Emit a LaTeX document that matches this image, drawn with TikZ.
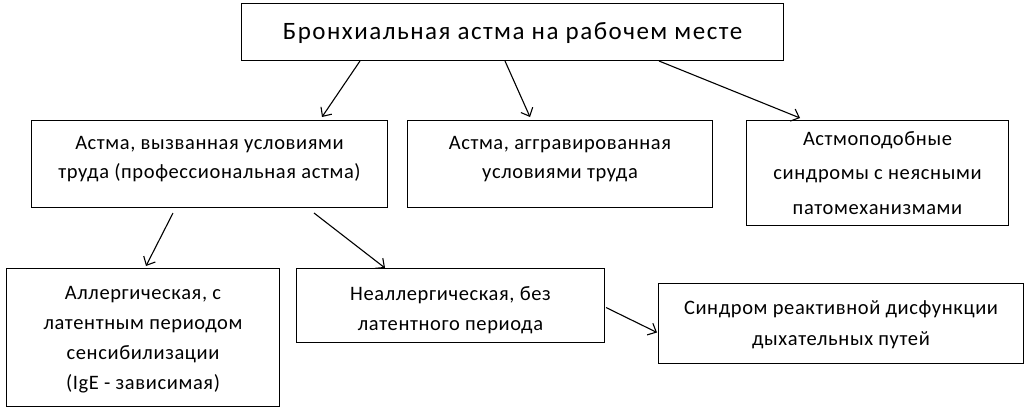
\documentclass[tikz,border=0pt]{standalone}
\usepackage{fontspec}
\setmainfont{Carlito}
\newfontfamily\bodyfont[LetterSpace=3]{Carlito}
\newfontfamily\titlefont[LetterSpace=6]{Carlito}
\usetikzlibrary{arrows.meta,calc}
\begin{document}
\begin{tikzpicture}[x=1pt,y=-1pt,
  box/.style={draw,line width=1pt,inner sep=0pt,anchor=north west},
  txt/.style={align=center,inner sep=0pt,anchor=north,font=\bodyfont\fontsize{20.5}{30}\selectfont},
  ttl/.style={align=center,inner sep=0pt,anchor=north,font=\titlefont\fontsize{25}{30}\selectfont},
  arr/.style={line width=1.1pt,-{Straight Barb[length=7pt,width=13pt,line width=1.1pt]}}]
\useasboundingbox (0,0) rectangle (1031,413);
\node[box,minimum width=542pt,minimum height=57pt] (top) at (241,3) {};
\node[box,minimum width=356pt,minimum height=87pt] (a) at (31,120) {};
\node[box,minimum width=305pt,minimum height=87pt] (b) at (407,120) {};
\node[box,minimum width=262pt,minimum height=105pt] (c) at (746,120) {};
\node[box,minimum width=273pt,minimum height=138pt] (d) at (6,268) {};
\node[box,minimum width=308pt,minimum height=74pt] (e) at (296,268) {};
\node[box,minimum width=365pt,minimum height=80pt] (f) at (658,283) {};
\node[ttl] (ttop) at ($(top.north)+(0,19)$) {Бронхиальная астма на рабочем месте};
\node[txt,font=\bodyfont\fontsize{20.5}{29}\selectfont] (ta) at ($(a.north)+(0,16)$) {Астма, вызванная условиями\\труда (профессиональная астма)};
\node[txt,font=\bodyfont\fontsize{20.5}{29}\selectfont] (tb) at ($(b.north)+(0,16)$) {Астма, аггравированная\\условиями труда};
\node[txt,font=\bodyfont\fontsize{20.5}{34.5}\selectfont] (tc) at ($(c.north)+(0,11)$) {Астмоподобные\\синдромы с неясными\\патомеханизмами};
\node[txt] (td) at ($(d.north)+(0,18)$) {Аллергическая, с\\латентным периодом\\сенсибилизации\\(IgE - зависимая)};
\node[txt] (te) at ($(e.north)+(0,18)$) {Неаллергическая, без\\латентного периода};
\node[txt,font=\bodyfont\fontsize{20.5}{31}\selectfont] (tf) at ($(f.north)+(0,17)$) {Синдром реактивной дисфункции\\дыхательных путей};
\draw[arr] ($(top.south west)+(119,0)$) -- ($(a.north west)+(291,-3)$);
\draw[arr] ($(top.south west)+(264,0)$) -- ($(b.north west)+(123,-3)$);
\draw[arr] ($(top.south west)+(418,0)$) -- ($(c.north west)+(54,-2)$);
\draw[arr] ($(a.south west)+(142,5)$) -- ($(d.north west)+(140,-2)$);
\draw[arr] ($(a.south west)+(283,5)$) -- ($(e.north west)+(89,0)$);
\draw[arr] ($(e.east)+(1,2)$) -- ($(f.west)+(-1,9)$);
\end{tikzpicture}
\end{document}
